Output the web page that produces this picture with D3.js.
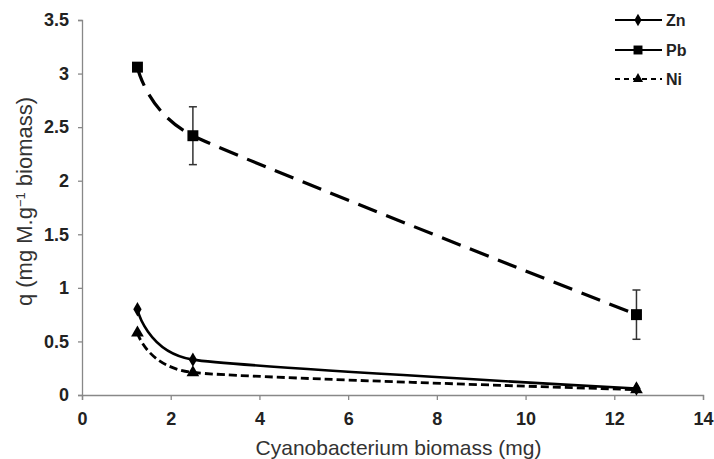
<!DOCTYPE html>
<html>
<head>
<meta charset="utf-8">
<script src="https://cdn.jsdelivr.net/npm/d3@7"></script>
<style>
  body { margin: 0; background: #fff; }
  .tick text { font-family: "Liberation Sans", Arial, sans-serif; font-weight: bold; font-size: 18px; fill: #222; }
  .axis-title { font-family: "Liberation Sans", Arial, sans-serif; font-size: 21px; fill: #333; }
</style>
</head>
<body>
<div class="chart"></div>
<script>
// Data
var biomass = [1.25, 2.5, 12.5];
var zn = [0.80, 0.33, 0.06];
var pb = [3.06, 2.42, 0.75];
var ni = [0.58, 0.21, 0.05];
var pbErr = [0, 0.27, 0.23];
var xTicks = [0, 2, 4, 6, 8, 10, 12, 14];
var yTicks = [0, 0.5, 1, 1.5, 2, 2.5, 3, 3.5];

var svgWidth = 714;
var svgHeight = 459;
var margin = {top: 20, right: 11, bottom: 64, left: 82};
var width = svgWidth - margin.left - margin.right;
var height = svgHeight - margin.top - margin.bottom;

var svg = d3.select(".chart").append("svg")
  .attr("width", svgWidth)
  .attr("height", svgHeight);

var chart = svg.append("g")
  .attr("transform", "translate(" + margin.left + "," + margin.top + ")");

var x = d3.scaleLinear().domain([0, 14]).range([0, width]);
var y = d3.scaleLinear().domain([0, 3.5]).range([height, 0]);

// axes
var xAxis = chart.append("g")
  .attr("transform", "translate(0," + height + ")")
  .call(d3.axisBottom(x).tickValues(xTicks).tickSize(5).tickPadding(12).tickFormat(d3.format("")));
var yAxis = chart.append("g")
  .call(d3.axisLeft(y).tickValues(yTicks).tickSize(4).tickPadding(9).tickFormat(d3.format("")));
[xAxis, yAxis].forEach(function(a) {
  a.select(".domain").attr("stroke", "#888").attr("stroke-width", 1.3);
  a.selectAll(".tick line").attr("stroke", "#888").attr("stroke-width", 1.3);
});

chart.append("text")
  .attr("class", "axis-title")
  .attr("x", width / 2 + 6)
  .attr("y", height + 60)
  .attr("text-anchor", "middle")
  .text("Cyanobacterium biomass (mg)");

var yt = chart.append("text")
  .attr("class", "axis-title")
  .style("font-size", "22px")
  .attr("transform", "translate(" + (-50) + "," + (height / 2 - 6) + ") rotate(-90)")
  .attr("text-anchor", "middle");
yt.append("tspan").text("q (mg M.g");
yt.append("tspan").attr("dy", -7).style("font-size", "13px").text("\u22121");
yt.append("tspan").attr("dy", 7).text(" biomass)");

function pts(vals) {
  return biomass.map(function(b, i) { return [x(b), y(vals[i])]; });
}
// smoothed line, tension chosen so the short first segment does not hook back
var line = d3.line().curve(d3.curveCardinal.tension(0.45));

// error bars for Pb
biomass.forEach(function(b, i) {
  if (!pbErr[i]) return;
  var g = chart.append("g").attr("stroke", "#333").attr("stroke-width", 1.5);
  g.append("line").attr("x1", x(b)).attr("x2", x(b)).attr("y1", y(pb[i] + pbErr[i])).attr("y2", y(pb[i] - pbErr[i]));
  [pb[i] + pbErr[i], pb[i] - pbErr[i]].forEach(function(v) {
    g.append("line").attr("x1", x(b) - 4).attr("x2", x(b) + 4).attr("y1", y(v)).attr("y2", y(v));
  });
});

chart.append("path").attr("d", line(pts(pb)))
  .attr("fill", "none").attr("stroke", "#000").attr("stroke-width", 3.2)
  .attr("stroke-dasharray", "20,10");
chart.append("path").attr("d", line(pts(ni)))
  .attr("fill", "none").attr("stroke", "#000").attr("stroke-width", 2.8)
  .attr("stroke-dasharray", "8,4");
chart.append("path").attr("d", line(pts(zn)))
  .attr("fill", "none").attr("stroke", "#000").attr("stroke-width", 2.6);

var diamond = d3.symbol().type(d3.symbolDiamond).size(60);
var square = d3.symbol().type(d3.symbolSquare).size(120);
var triangle = d3.symbol().type(d3.symbolTriangle).size(70);

function markers(vals, sym) {
  chart.selectAll(null).data(pts(vals)).enter().append("path")
    .attr("d", sym)
    .attr("transform", function(d) { return "translate(" + d[0] + "," + d[1] + ")"; })
    .attr("fill", "#000");
}
markers(zn, diamond);
markers(pb, square);
markers(ni, triangle);

// legend
var legendItems = [
  {name: "Zn", sym: diamond, dash: null, y: 20},
  {name: "Pb", sym: square, dash: null, y: 50},
  {name: "Ni", sym: triangle, dash: "5,4", y: 79}
];
legendItems.forEach(function(it) {
  svg.append("line").attr("x1", 615).attr("x2", 662).attr("y1", it.y).attr("y2", it.y)
    .attr("stroke", "#000").attr("stroke-width", 2.2)
    .attr("stroke-dasharray", it.dash);
  svg.append("path").attr("d", it.sym.size(it.name === "Pb" ? 80 : 45)())
    .attr("transform", "translate(638," + it.y + ")");
  svg.append("text").attr("x", 666).attr("y", it.y + 6)
    .style("font-family", "'Liberation Sans', Arial, sans-serif")
    .style("font-weight", "bold").style("font-size", "16px").style("fill", "#222")
    .text(it.name);
});
</script>
</body>
</html>
